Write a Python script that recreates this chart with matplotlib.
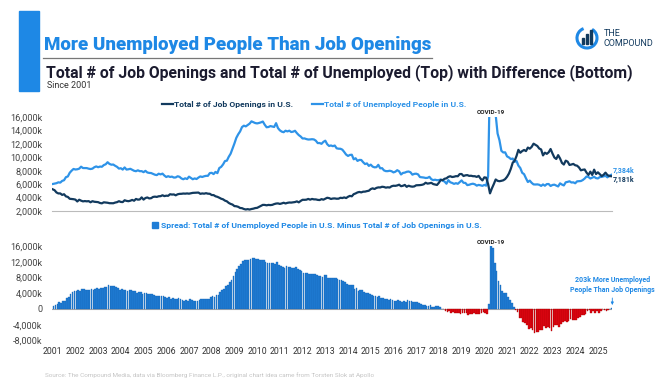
import matplotlib
matplotlib.use("Agg")
import matplotlib.pyplot as plt
import numpy as np
from matplotlib.patches import Rectangle, Patch, Arc
from matplotlib.lines import Line2D

# ---------------- data (thousands, monthly Jan-2001 .. Aug-2025) ----------------
start_year = 2001
job_openings = [
    5234, 5097, 4762, 4615, 4619, 4398, 4498, 4177, 4097, 3821, 3788, 3758,  # 2001
    3695, 3419, 3679, 3539, 3435, 3478, 3440, 3470, 3298, 3459, 3377, 3346,  # 2002
    3318, 3191, 3142, 3294, 3269, 3229, 3163, 3153, 3154, 3255, 3317, 3462,  # 2003
    3350, 3328, 3598, 3507, 3461, 3530, 3654, 3527, 3795, 3692, 3719, 4030,  # 2004
    3697, 3932, 4017, 3873, 3909, 4092, 4138, 4098, 4193, 4209, 4343, 4219,  # 2005
    4282, 4261, 4499, 4449, 4467, 4337, 4491, 4552, 4560, 4601, 4583, 4617,  # 2006
    4579, 4636, 4700, 4720, 4740, 4745, 4556, 4616, 4581, 4653, 4580, 4564,  # 2007
    4378, 4370, 4192, 4110, 3979, 3829, 3739, 3545, 3441, 3203, 3054, 2955,  # 2008
    2729, 2705, 2620, 2452, 2419, 2298, 2225, 2276, 2216, 2296, 2349, 2436,  # 2009
    2470, 2617, 2750, 2911, 2905, 2847, 2907, 2878, 2915, 3029, 3109, 3133,  # 2010
    3054, 3129, 3230, 3126, 3215, 3265, 3251, 3296, 3334, 3435, 3287, 3503,  # 2011
    3668, 3664, 3684, 3798, 3688, 3796, 3732, 3728, 3658, 3631, 3767, 3687,  # 2012
    3822, 3971, 3920, 3794, 3860, 3874, 3828, 3838, 3968, 3930, 4021, 3928,  # 2013
    4120, 4251, 4188, 4506, 4616, 4766, 4837, 4773, 4876, 4887, 4962, 5019,  # 2014
    5260, 5375, 5274, 5439, 5517, 5505, 5611, 5575, 5480, 5533, 5493, 5685,  # 2015
    5762, 5746, 5808, 5918, 5692, 5756, 5884, 5599, 5768, 5668, 5624, 5663,  # 2016
    5828, 5837, 5856, 5896, 5980, 6210, 6077, 6127, 6194, 6011, 5939, 5880,  # 2017
    6209, 6628, 6598, 6800, 6871, 7082, 7177, 7063, 7106, 7190, 7176, 7502,  # 2018
    7509, 7212, 7310, 7345, 7232, 7252, 7181, 7180, 7074, 7230, 6819, 6552,  # 2019
    7012, 6962, 6011, 4626, 5371, 6001, 6697, 6493, 6436, 6494, 6572, 6752,  # 2020
    7099, 7580, 8288, 9193, 9483, 10185, 11108, 10676, 10925, 11091, 10922, 11448,  # 2021
    11283, 11549, 12027, 11855, 11681, 11303, 11170, 10280, 10687, 10512, 10746, 11234,  # 2022
    10563, 9974, 9745, 10320, 9824, 9165, 8920, 9497, 9350, 8859, 8925, 9012,  # 2023
    8813, 8748, 8488, 8059, 8140, 8184, 7711, 7372, 7861, 7372, 8156, 7508,  # 2024
    7762, 7480, 7200, 7395, 7712, 7357, 7208, 7181,  # 2025
]
unemployed = [
    6023, 6089, 6141, 6271, 6226, 6484, 6583, 7042, 7142, 7694, 8003, 8258,  # 2001
    8182, 8215, 8304, 8599, 8399, 8393, 8390, 8304, 8251, 8307, 8520, 8640,  # 2002
    8520, 8618, 8588, 8842, 8957, 9266, 9011, 8896, 8921, 8732, 8576, 8317,  # 2003
    8370, 8167, 8491, 8170, 8212, 8286, 8136, 7990, 7927, 8061, 7932, 7934,  # 2004
    7784, 7980, 7737, 7672, 7651, 7524, 7406, 7345, 7553, 7453, 7566, 7279,  # 2005
    7064, 7184, 7072, 7120, 6980, 7001, 7175, 7091, 6847, 6727, 6872, 6762,  # 2006
    7116, 6927, 6731, 6850, 6766, 6979, 7149, 7067, 7170, 7237, 7240, 7645,  # 2007
    7685, 7497, 7822, 7637, 8395, 8575, 8937, 9438, 9494, 10074, 10538, 11286,  # 2008
    12058, 12898, 13426, 13853, 14499, 14707, 14601, 14814, 15009, 15352, 15219, 15098,  # 2009
    15046, 15113, 15202, 15325, 14849, 14474, 14512, 14648, 14579, 14516, 15081, 14348,  # 2010
    14013, 13820, 13737, 13957, 13855, 13962, 13763, 13818, 13948, 13594, 13302, 13093,  # 2011
    12797, 12813, 12713, 12646, 12660, 12692, 12656, 12471, 12115, 12124, 12005, 12298,  # 2012
    12471, 11950, 11689, 11760, 11654, 11751, 11335, 11279, 11270, 11136, 10787, 10404,  # 2013
    10202, 10349, 10380, 9702, 9859, 9460, 9608, 9599, 9262, 8990, 9090, 8717,  # 2014
    8903, 8610, 8504, 8526, 8875, 8357, 8379, 8047, 7938, 7938, 7997, 7927,  # 2015
    7749, 7851, 8078, 7910, 7439, 7668, 7717, 7837, 7882, 7764, 7411, 7529,  # 2016
    7558, 7453, 7053, 7021, 6985, 6920, 6937, 7088, 6735, 6600, 6660, 6585,  # 2017
    6609, 6690, 6515, 6384, 6067, 6597, 6279, 6181, 6039, 6144, 6052, 6313,  # 2018
    6557, 6201, 6185, 5857, 5908, 6010, 6066, 5976, 5778, 5887, 5825, 5744,  # 2019
    5887, 5771, 7185, 22504, 20838, 17697, 16308, 13542, 12535, 10971, 10719, 10736,  # 2020
    10132, 9979, 9738, 9813, 9321, 9453, 8762, 8403, 7691, 7483, 6871, 6316,  # 2021
    6525, 6195, 5962, 5946, 5965, 5908, 5736, 5956, 5765, 6008, 6019, 5724,  # 2022
    5877, 5922, 5791, 5656, 6119, 5937, 5807, 6276, 6336, 6429, 6244, 6268,  # 2023
    6130, 6417, 6444, 6463, 6607, 6838, 7143, 7065, 6839, 6965, 7092, 6895,  # 2024
    6849, 7052, 7083, 7164, 7237, 7015, 7236, 7384,  # 2025
]
year_labels = [str(y) for y in range(2001, 2026)]
top_yticks = [2000, 4000, 6000, 8000, 10000, 12000, 14000, 16000]
bot_yticks = [-8000, -4000, 0, 4000, 8000, 12000, 16000]

# ---------------- derived ----------------
jo = np.array(job_openings, dtype=float)
un = np.array(unemployed, dtype=float)
spread = un - jo
t = start_year + np.arange(len(jo)) / 12.0

plt.rcParams["font.family"] = ["Roboto", "DejaVu Sans"]

NAVY = "#123a5e"
LBLUE = "#2e93e8"
TBLUE = "#1e88e5"
BARBLUE = "#1f7dd6"
RED = "#e30613"

W, H = 672, 392
fig = plt.figure(figsize=(W / 100, H / 100), dpi=100)
fig.patch.set_facecolor("white")

def fx(px):
    return px / W

def fy(py):
    return 1 - py / H

# ---------------- header ----------------
fig.patches.append(Rectangle((fx(19), fy(91)), fx(20), (91 - 11) / H,
                             transform=fig.transFigure, color=TBLUE, zorder=1))
fig.text(fx(44), fy(45), "More Unemployed People Than Job Openings",
         fontsize=13.5, fontweight="heavy", color=TBLUE,
         va="center", ha="left")
fig.add_artist(Line2D([fx(43), fx(432)], [fy(57.5), fy(57.5)], color="#777777", lw=0.9))
fig.text(fx(46), fy(72.5), "Total # of Job Openings and Total # of Unemployed (Top) with Difference (Bottom)",
         fontsize=11.3, fontweight="semibold", color="#1b1b2f",
         va="center", ha="left")
fig.text(fx(47), fy(86), "Since 2001", fontsize=6.5, color="#333333",
         va="center", ha="left")

# logo
ax_logo = fig.add_axes([fx(575), fy(50), fx(24), 24 / H])
ax_logo.set_xlim(-1.2, 1.2)
ax_logo.set_ylim(-1.2, 1.2)
ax_logo.set_aspect("equal")
ax_logo.axis("off")
ax_logo.add_patch(Arc((0, 0), 2.0, 2.0, theta1=110, theta2=420, color=TBLUE, lw=2.2))
for bx, bh in [(-0.4, 0.6), (0.0, 1.0), (0.4, 1.4)]:
    ax_logo.add_patch(Rectangle((bx - 0.13, -0.6), 0.26, bh, color=NAVY))
fig.text(fx(604), fy(33), "THE", fontsize=6.5, color=NAVY, va="center")
fig.text(fx(604), fy(44), "COMPOUND", fontsize=6.5, color=NAVY, va="center")

# ---------------- top axes ----------------
x0, x1 = 2000.97, 2025.62
ax1 = fig.add_axes([fx(52), fy(211), fx(612 - 52), (211 - 117) / H])
ax1.plot(t, jo, color=NAVY, lw=1.6, label="Total # of Job Openings in U.S.", zorder=3)
ax1.plot(t, un, color=LBLUE, lw=1.6, label="Total # of Unemployed People in U.S.", zorder=2)
ax1.set_xlim(x0, x1)
ax1.set_ylim(2000, 16000)
ax1.set_yticks(top_yticks)
ax1.set_yticklabels([f"{v:,}k" for v in top_yticks])
ax1.set_xticks([])
for s in ["top", "right", "left"]:
    ax1.spines[s].set_visible(False)
ax1.spines["bottom"].set_color("#bbbbbb")
ax1.spines["bottom"].set_linewidth(0.8)
ax1.tick_params(axis="y", length=0, labelsize=6.6, labelcolor="#444444", pad=7)
leg1 = ax1.legend(loc="lower center", bbox_to_anchor=(0.468, 1.03), ncol=2, frameon=False,
                  fontsize=6.1, handlelength=1.3, handletextpad=0.1, columnspacing=2.2,
                  borderaxespad=0.3)
for txt, c in zip(leg1.get_texts(), [NAVY, LBLUE]):
    txt.set_color(c)
    txt.set_fontweight("bold")
ax1.text(2020.28, 16350, "COVID-19", fontsize=4.6, fontweight="bold", color="#222222",
         ha="center", va="bottom", clip_on=False)
ax1.text(x1 + 0.05, un[-1] + 560, f"{int(un[-1]):,}k", fontsize=5.0, fontweight="bold",
         color=LBLUE, ha="left", va="center", clip_on=False)
ax1.text(x1 + 0.05, jo[-1] - 560, f"{int(jo[-1]):,}k", fontsize=5.0, fontweight="bold",
         color=NAVY, ha="left", va="center", clip_on=False)

# ---------------- bottom axes ----------------
ax2 = fig.add_axes([fx(52), fy(340.5), fx(612 - 52), (340.5 - 246) / H])
cols = [BARBLUE if v >= 0 else RED for v in spread]
edges = ["#1563b3" if v >= 0 else "#a30000" for v in spread]
ax2.bar(t + 1 / 24, spread, width=1 / 12 * 0.88, color=cols, edgecolor=edges, linewidth=0.25,
        zorder=2)
ax2.axhline(0, color="#aaaaaa", lw=0.8, zorder=1)
ax2.set_xlim(x0, x1)
ax2.set_ylim(-8000, 16000)
ax2.set_yticks(bot_yticks)
ax2.set_yticklabels([("0" if v == 0 else f"{v:,}k") for v in bot_yticks])
ax2.set_xticks(np.arange(2001, 2026))
ax2.set_xticklabels(year_labels)
for s in ["top", "right", "left", "bottom"]:
    ax2.spines[s].set_visible(False)
ax2.tick_params(axis="y", length=0, labelsize=6.6, labelcolor="#444444", pad=7)
ax2.tick_params(axis="x", length=0, labelsize=6.3, labelcolor="#333333", pad=5)
leg2 = ax2.legend(handles=[Patch(facecolor=BARBLUE, edgecolor=BARBLUE)],
                  labels=["Spread: Total # of Unemployed People in U.S. Minus Total # of Job Openings in U.S."],
                  loc="center", bbox_to_anchor=(0.473, 1.22), frameon=False, fontsize=6.1,
                  handlelength=0.7, handleheight=0.7, handletextpad=0.3, borderaxespad=0)
for txt in leg2.get_texts():
    txt.set_color(TBLUE)
    txt.set_fontweight("bold")
ax2.text(2020.28, 16300, "COVID-19", fontsize=4.6, fontweight="bold", color="#222222",
         ha="center", va="bottom", clip_on=False)
ax2.text(t[-1] + 0.05, 3800, f"{int(spread[-1])}k More Unemployed\nPeople Than Job Openings",
         fontsize=5.0, fontweight="bold", color=TBLUE, ha="center", va="bottom",
         linespacing=1.3, clip_on=False)
ax2.annotate("", xy=(t[-1] + 0.05, 300), xytext=(t[-1] + 0.05, 3500),
             arrowprops=dict(arrowstyle="-|>", color=TBLUE, lw=0.6, mutation_scale=4),
             annotation_clip=False)

fig.text(fx(45), fy(375), "Source: The Compound Media, data via Bloomberg Finance L.P., original chart idea came from Torsten Slok at Apollo",
         fontsize=4.6, color="#c4c4c4", ha="left", va="center")

fig.savefig("out.png", dpi=100, facecolor="white")
